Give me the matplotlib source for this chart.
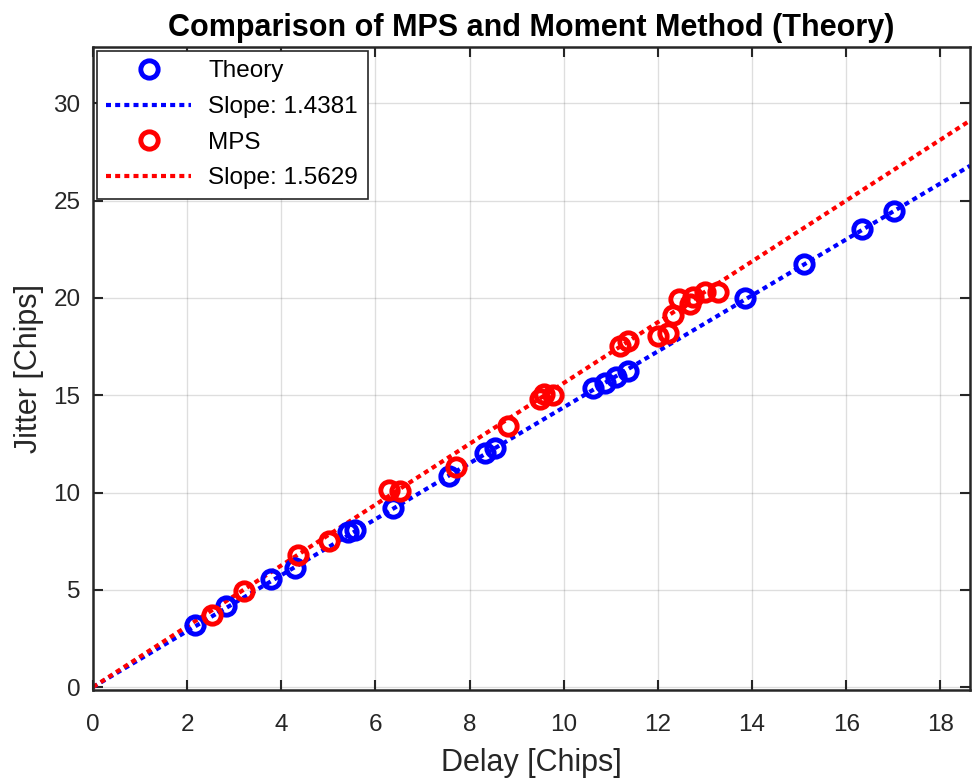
import numpy as np
import matplotlib
matplotlib.use('Agg')
import matplotlib.pyplot as plt

plt.rcParams['font.family'] = ['Liberation Sans', 'DejaVu Sans']

# theory points (delay, jitter)
theory_delay = [2.17, 2.82, 3.78, 4.29, 5.42, 5.57, 6.38, 7.57, 8.33, 8.54,
                10.63, 10.88, 11.12, 11.37, 13.86, 15.10, 16.34, 17.02]
theory_jitter = [3.18, 4.16, 5.53, 6.13, 7.95, 8.05, 9.21, 10.87, 12.03, 12.29,
                 15.37, 15.63, 15.95, 16.25, 20.02, 21.73, 23.53, 24.49]

# MPS points
mps_delay = [2.52, 3.21, 4.36, 5.02, 6.29, 6.52, 7.71, 8.82, 9.49, 9.57, 9.78,
             11.19, 11.37, 12.01, 12.22, 12.33, 12.45, 12.68, 12.75, 13.00, 13.28]
mps_jitter = [3.70, 4.96, 6.78, 7.53, 10.15, 10.06, 11.29, 13.40, 14.80, 15.08, 15.03,
              17.51, 17.78, 18.02, 18.19, 19.15, 19.95, 19.70, 20.05, 20.33, 20.30]

# fitted slopes (line through origin)
slope_theory = 1.4381
slope_mps = 1.5629

x_ticks = [0, 2, 4, 6, 8, 10, 12, 14, 16, 18]
y_ticks = [0, 5, 10, 15, 20, 25, 30]
x_max = 18.63
y_min, y_max = -0.15, 32.9

fig = plt.figure(figsize=(9.72, 7.8), dpi=100)
ax = fig.add_axes([93/972, 1 - 690/780, (970 - 93)/972, (690 - 47)/780])

fit_x = np.array([0, x_max])
dots = (0, (1.2, 1.0))

ax.plot(theory_delay, theory_jitter, 'o', color='blue', mfc='none',
        ms=12.5, mew=3.5, label='Theory', zorder=3)
ax.plot(fit_x, slope_theory*fit_x, color='blue', lw=3, ls=dots,
        label='Slope: 1.4381', zorder=2)
ax.plot(mps_delay, mps_jitter, 'o', color='red', mfc='none',
        ms=12.5, mew=3.5, label='MPS', zorder=3)
ax.plot(fit_x, slope_mps*fit_x, color='red', lw=3, ls=dots,
        label='Slope: 1.5629', zorder=2)

ax.set_xlim(0, x_max)
ax.set_ylim(y_min, y_max)
ax.set_xticks(x_ticks)
ax.set_yticks(y_ticks)

ax.grid(True, color='#262626', alpha=0.15, lw=1)
ax.set_axisbelow(True)
for s in ax.spines.values():
    s.set_color('#262626')
    s.set_linewidth(1.8)
ax.tick_params(direction='in', length=7, width=1.5, colors='#262626',
               labelsize=17.5, top=True, right=True)
ax.tick_params(axis='x', pad=17)
ax.tick_params(axis='y', pad=9)

ax.set_xlabel('Delay [Chips]', fontsize=22, color='#262626', labelpad=9)
ax.set_ylabel('Jitter [Chips]', fontsize=22, color='#262626', labelpad=7)
ax.set_title('Comparison of MPS and Moment Method (Theory)',
             fontsize=22, fontweight='bold', pad=8)

leg = ax.legend(loc='upper left', fontsize=17.5, handlelength=3.5,
                fancybox=False, framealpha=1, borderaxespad=0.15,
                labelspacing=0.56, handletextpad=0.7, borderpad=0.4)
leg.get_frame().set_edgecolor('#262626')
leg.get_frame().set_linewidth(1.2)

fig.savefig('out.png', dpi=100)
